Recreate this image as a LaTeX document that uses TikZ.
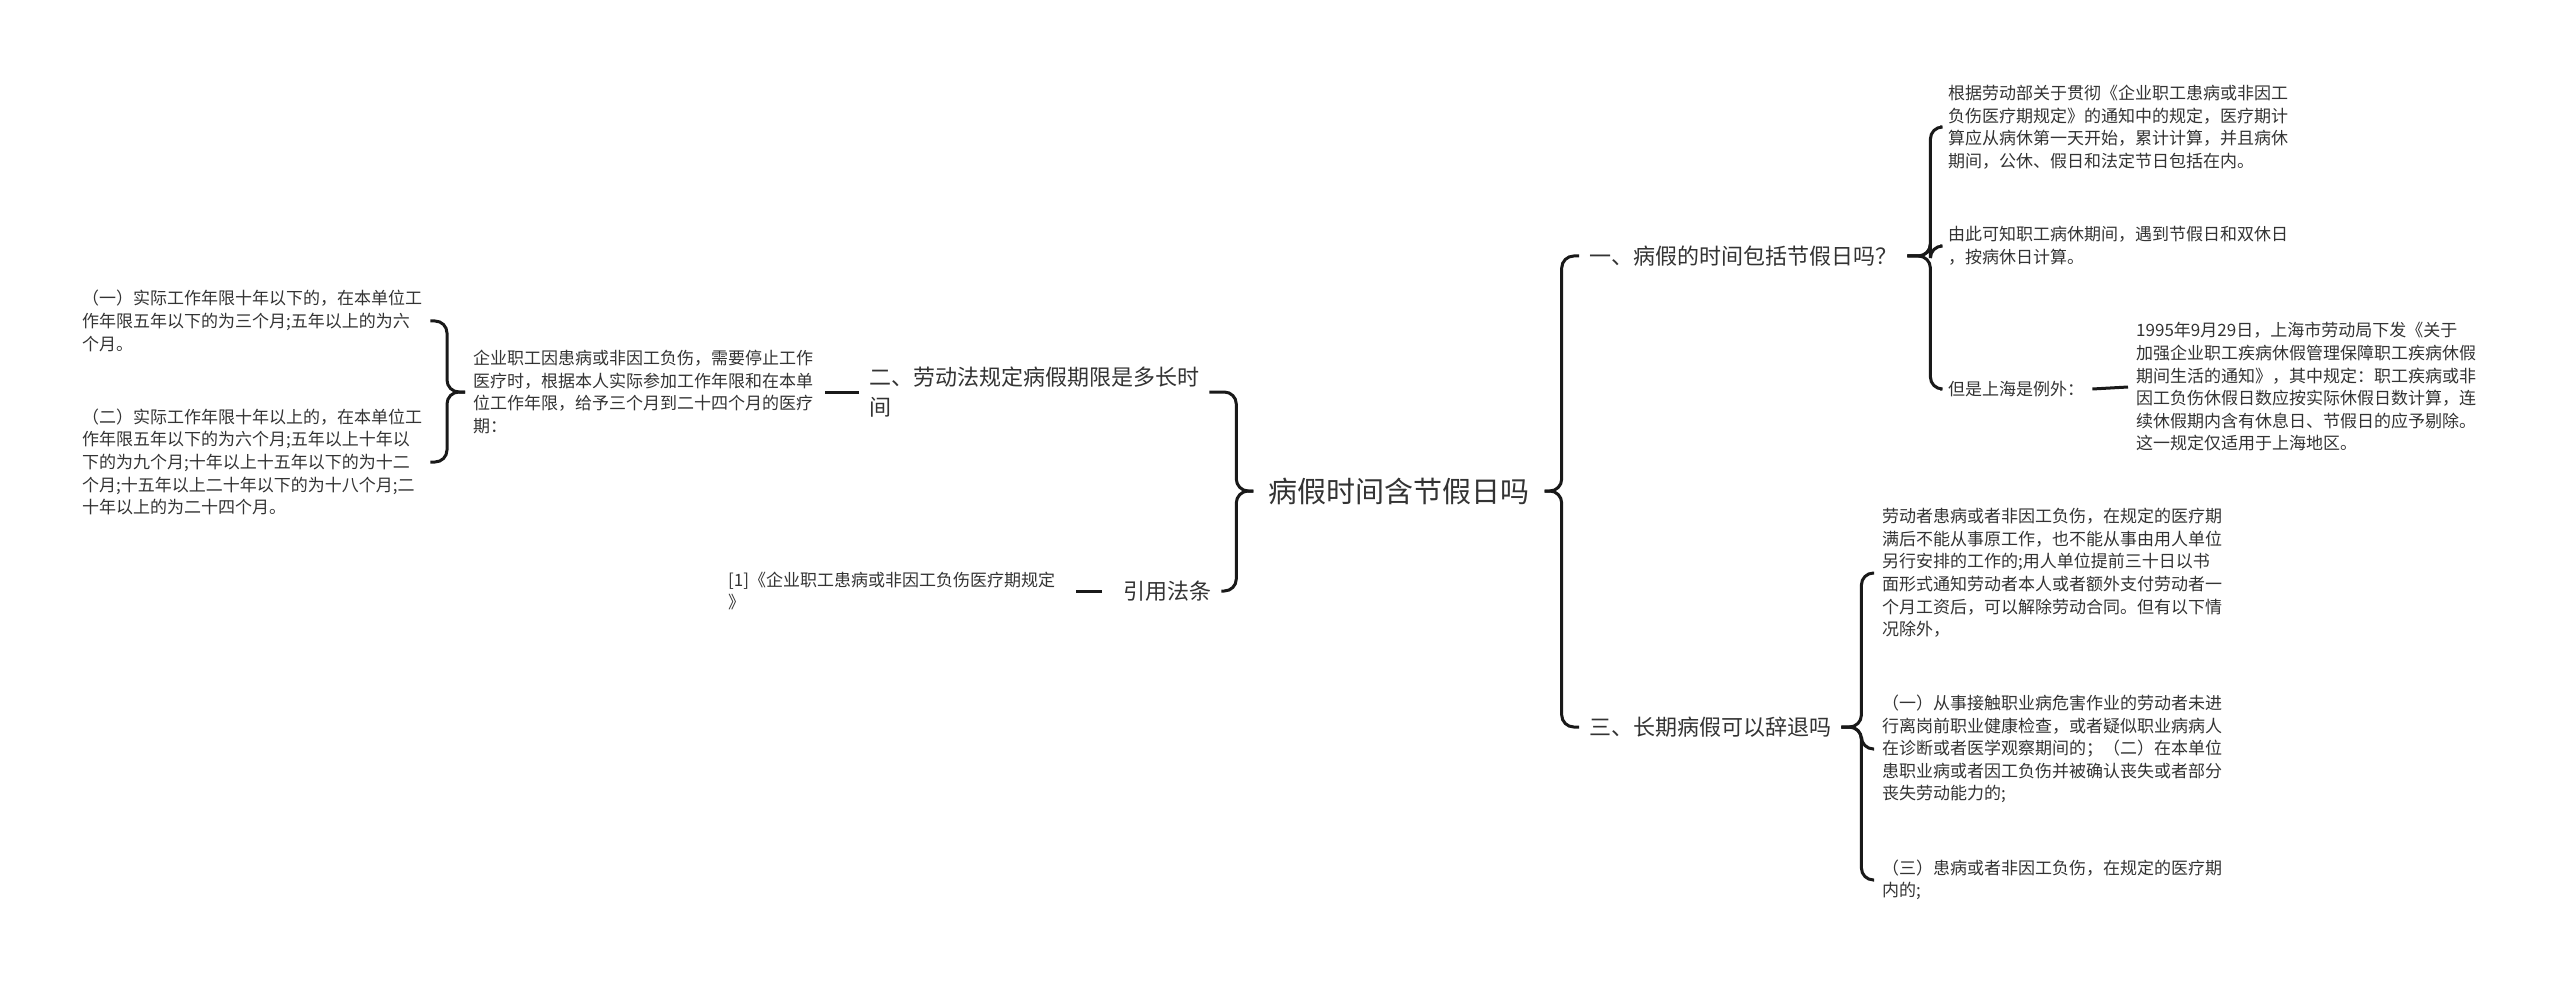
\documentclass[tikz,border=0pt]{standalone}
\usepackage{fontspec}
\setmainfont{Noto Sans CJK SC}

\begin{document}
\begin{tikzpicture}[x=1pt, y=-1pt,
        topic/.style={inner xsep=15pt, font=\fontsize{29}{36}\selectfont, text=black!80},
        branch/.style={inner xsep=10pt, align=left, font=\fontsize{22}{30}\selectfont, text=black!80},
        leaf/.style={inner xsep=8pt, align=left, font=\fontsize{17}{22.6}\selectfont, text=black!80},
        link/.style={line width=3pt, rounded corners=12pt, black!90}]
        \useasboundingbox (0,0) rectangle (2560,984);

        \node[topic] (root) at (1399,491) {病假时间含节假日吗};

        % left side
        \node[branch, anchor=west] (law) at (859,392) {二、劳动法规定病假期限是多长时\\间};
        \node[branch, anchor=west] (cite) at (1113,591) {引用法条};
        \node[leaf, anchor=west] (rule) at (465,392) {企业职工因患病或非因工负伤，需要停止工作\\医疗时，根据本人实际参加工作年限和在本单\\位工作年限，给予三个月到二十四个月的医疗\\期：};
        \node[leaf, anchor=west] (under10) at (74,321) {（一）实际工作年限十年以下的，在本单位工\\作年限五年以下的为三个月;五年以上的为六\\个月。};
        \node[leaf, anchor=west] (over10) at (74,462) {（二）实际工作年限十年以上的，在本单位工\\作年限五年以下的为六个月;五年以上十年以\\下的为九个月;十年以上十五年以下的为十二\\个月;十五年以上二十年以下的为十八个月;二\\十年以上的为二十四个月。};
        \node[leaf, anchor=west] (ref1) at (720,591) {[1]《企业职工患病或非因工负伤医疗期规定\\》};

        % right side
        \node[branch, anchor=west] (holiday) at (1579,256) {一、病假的时间包括节假日吗？};
        \node[branch, anchor=west] (dismiss) at (1579,727) {三、长期病假可以辞退吗};
        \node[leaf, anchor=west] (notice) at (1940,127) {根据劳动部关于贯彻《企业职工患病或非因工\\负伤医疗期规定》的通知中的规定，医疗期计\\算应从病休第一天开始，累计计算，并且病休\\期间，公休、假日和法定节日包括在内。};
        \node[leaf, anchor=west] (count) at (1940,246) {由此可知职工病休期间，遇到节假日和双休日\\，按病休日计算。};
        \node[leaf, anchor=west] (except) at (1940,389) {但是上海是例外：};
        \node[leaf, anchor=west] (shanghai) at (2128,387) {1995年9月29日，上海市劳动局下发《关于\\加强企业职工疾病休假管理保障职工疾病休假\\期间生活的通知》，其中规定：职工疾病或非\\因工负伤休假日数应按实际休假日数计算，连\\续休假期内含有休息日、节假日的应予剔除。\\这一规定仅适用于上海地区。};
        \node[leaf, anchor=west] (expire) at (1874,573) {劳动者患病或者非因工负伤，在规定的医疗期\\满后不能从事原工作，也不能从事由用人单位\\另行安排的工作的;用人单位提前三十日以书\\面形式通知劳动者本人或者额外支付劳动者一\\个月工资后，可以解除劳动合同。但有以下情\\况除外，};
        \node[leaf, anchor=west] (case12) at (1874,749) {（一）从事接触职业病危害作业的劳动者未进\\行离岗前职业健康检查，或者疑似职业病病人\\在诊断或者医学观察期间的；（二）在本单位\\患职业病或者因工负伤并被确认丧失或者部分\\丧失劳动能力的;};
        \node[leaf, anchor=west] (case3) at (1874,880) {（三）患病或者非因工负伤，在规定的医疗期\\内的;};

        \draw[link] (root.east) -- ++(17,0) |- (holiday.west);
        \draw[link] (root.east) -- ++(17,0) |- (dismiss.west);
        \draw[link] (root.west) -- ++(-17,0) |- (law.east);
        \draw[link] (root.west) -- ++(-17,0) |- (cite.east);

        \draw[link, shorten >=4pt] (law.west) -- (rule.east);
        \draw[link] (rule.west) -- ++(-18,0) |- (under10.east);
        \draw[link] (rule.west) -- ++(-18,0) |- (over10.east);
        \draw[link, shorten <=11pt, shorten >=13pt] (cite.west) -- (ref1.east);

        \draw[link] (holiday.east) -- ++(23,0) |- (notice.west);
        \draw[link] (holiday.east) -- ++(23,0) |- (count.west);
        \draw[link] (holiday.east) -- ++(23,0) |- (except.west);
        \draw[link] (except.east) -- (shanghai.west);

        \draw[link] (dismiss.east) -- ++(20,0) |- (expire.west);
        \draw[link] (dismiss.east) -- ++(20,0) |- (case12.west);
        \draw[link] (dismiss.east) -- ++(20,0) |- (case3.west);
\end{tikzpicture}
\end{document}
